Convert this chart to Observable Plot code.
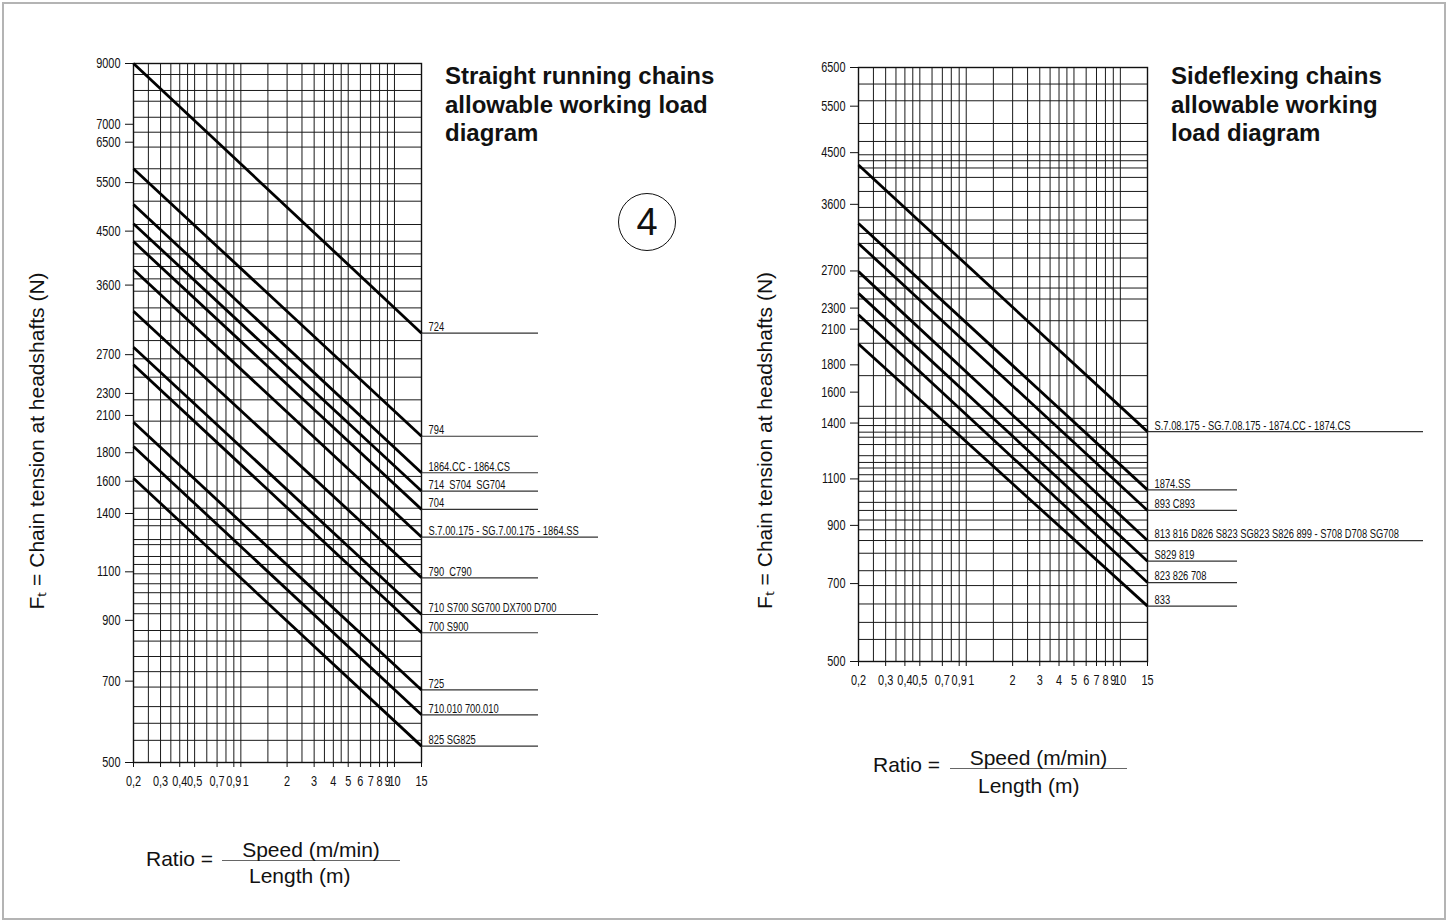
<!DOCTYPE html>
<html>
<head>
<meta charset="utf-8">
<script src="https://cdn.jsdelivr.net/npm/d3@7"></script>
<script src="https://cdn.jsdelivr.net/npm/@observablehq/plot@0.6"></script>
<style>
  html, body { margin: 0; padding: 0; background: #fff; }
  #page { position: relative; width: 1448px; height: 922px; overflow: hidden;
          font-family: "Liberation Sans", Arial, Helvetica, sans-serif; color: #111; }
  .border { position: absolute; left: 2px; top: 2px; width: 1444px; height: 918px;
            box-sizing: border-box; border: 2px solid #b4b4b4; }
  .chart { position: absolute; top: 0; }
  .chart svg { display: block; max-width: none; }
  .title { position: absolute; font-weight: bold; font-size: 24px; line-height: 28.5px; white-space: nowrap; }
  .circle { position: absolute; left: 618px; top: 193px; width: 58px; height: 58px; box-sizing: border-box;
            border: 1.6px solid #111; border-radius: 50%; display: flex; align-items: center; justify-content: center;
            font-size: 38px; line-height: 1; font-weight: 300; }
  .ftxt { position: absolute; font-size: 21px; line-height: 21px; white-space: nowrap; }
  .num { text-align: center; border-bottom: 1.3px solid #666; }
</style>
</head>
<body>
<div id="page">
  <div class="border"></div>
  <div class="chart" id="left" style="left:0px;width:620px;"></div>
  <div class="chart" id="right" style="left:724px;width:716px;"></div>

  <div class="title" style="left:445px;top:62px;">Straight running chains<br>allowable working load<br>diagram</div>
  <div class="title" style="left:1171px;top:62px;">Sideflexing chains<br>allowable working<br>load diagram</div>
  <div class="circle">4</div>

  <div class="ftxt" style="left:146px;top:848px;">Ratio =</div>
  <div class="ftxt num" style="left:222px;top:839px;width:178px;">Speed (m/min)</div>
  <div class="ftxt" style="left:249px;top:865px;">Length (m)</div>

  <div class="ftxt" style="left:873px;top:754px;">Ratio =</div>
  <div class="ftxt num" style="left:950px;top:747px;width:177px;">Speed (m/min)</div>
  <div class="ftxt" style="left:978px;top:775px;">Length (m)</div>
</div>
<script>
// ---------- data ----------
const ratioGrid = [0.2, 0.25, 0.3, 0.35, 0.4, 0.45, 0.5, 0.6, 0.7, 0.8, 0.9, 1, 1.5, 2, 2.5, 3, 3.5, 4, 4.5, 5, 6, 7, 8, 9, 10, 15];
const ratioTicks = [0.2, 0.3, 0.4, 0.5, 0.7, 0.9, 1, 2, 3, 4, 5, 6, 7, 8, 9, 10, 15];
const ratioEnds = [0.2, 15];

const yLabel = "Fₜ = Chain tension at headshafts (N)";

// Straight running chains
const straightTicks = [500, 700, 900, 1100, 1400, 1600, 1800, 2100, 2300, 2700, 3600, 4500, 5500, 6500, 7000, 9000];
const straightDomain = [500, 9000];
const straightGrid = [8600, 8050, 7700, 7206, 6774, 6370, 5824, 5474, 5093, 4625, 4316, 4096, 3888, 3694, 3510,
  3276, 3100, 2862, 2654, 2460, 2240, 2051, 1868, 1632, 1536, 1431, 1366, 1331, 1257, 1231, 1172, 1134, 1091,
  1047, 1009, 964, 925, 863, 826, 775, 728, 683, 630, 588, 548];
const straightLabels = ["724", "794", "1864.CC - 1864.CS", "714  S704  SG704", "704",
  "S.7.00.175 - SG.7.00.175 - 1864.SS", "790  C790", "710 S700 SG700 DX700 D700", "700 S900",
  "725", "710.010 700.010", "825 SG825"];
const straightStart = [9000, 5824, 5024, 4639, 4310, 3841, 3232, 2785, 2589, 2042, 1847, 1620];
const straightEnd = [2951, 1927, 1657, 1536, 1424, 1270, 1073, 922, 855, 675, 609, 535];

// Sideflexing chains
const sideTicks = [500, 700, 900, 1100, 1400, 1600, 1800, 2100, 2300, 2700, 3600, 4500, 5500, 6500];
const sideDomain = [500, 6500];
const sideGrid = [6052, 5630, 5104, 4723, 4459, 4346, 4212, 4044, 3806, 3552, 3364, 3175, 3041, 2855, 2634,
  2508, 2392, 2178, 1976, 1718, 1505, 1429, 1385, 1346, 1317, 1276, 1216, 1181, 1153, 1120, 1089, 1043,
  994, 960, 921, 883, 843, 798, 740, 694, 641, 592, 550];
const sideLabels = ["S.7.08.175 - SG.7.08.175 - 1874.CC - 1874.CS", "1874.SS", "893 C893",
  "813 816 D826 S823 SG823 S826 899 - S708 D708 SG708", "S829 819", "823 826 708", "833"];
const sideStart = [4266, 3315, 3041, 2692, 2451, 2235, 1970];
const sideEnd = [1349, 1049, 960, 843, 771, 703, 635];

// ---------- drawing ----------
const FONT = '"Liberation Sans", Arial, Helvetica, sans-serif';
const NARROW_SCALE = 0.78; // Arial-Narrow look: Arial metrics compressed horizontally
const fmtRatio = (d) => String(d).replace(".", ",");

function drawChart(cfg) {
  const rows = cfg.labels.map((label, i) => ({label, start: cfg.start[i], end: cfg.end[i]}));
  const plotWidth = cfg.width - cfg.marginLeft - cfg.marginRight;
  const pxPerDecade = plotWidth / Math.log10(ratioEnds[1] / ratioEnds[0]);
  const extend = (px) => ratioEnds[1] * Math.pow(10, px / pxPerDecade);
  const svg = Plot.plot({
    width: cfg.width,
    height: cfg.height,
    marginLeft: cfg.marginLeft,
    marginRight: cfg.marginRight,
    marginTop: cfg.marginTop,
    marginBottom: cfg.marginBottom,
    x: {type: "log", domain: ratioEnds},
    y: {type: "log", domain: cfg.yDomain},
    style: {background: "none", color: "#111", fontFamily: FONT, fontSize: "14px", overflow: "visible"},
    marks: [
      Plot.ruleX(ratioGrid, {stroke: "#1a1a1a", strokeWidth: 1}),
      Plot.ruleY(cfg.yGrid, {stroke: "#1a1a1a", strokeWidth: 1}),
      Plot.frame({stroke: "#111", strokeWidth: 1.4}),
      Plot.axisX({ticks: ratioTicks, tickSize: 5, tickFormat: () => "", label: null}),
      Plot.axisY({ticks: cfg.yTicks, tickSize: 8, tickFormat: () => "", label: null}),
      Plot.text(ratioTicks.filter((d) => d !== 1), {x: (d) => d, frameAnchor: "bottom", lineAnchor: "top", dy: 14,
        text: fmtRatio, fontSize: 14}),
      Plot.text(ratioTicks.filter((d) => d === 1), {x: (d) => d, frameAnchor: "bottom", lineAnchor: "top", dy: 14, dx: 5,
        text: fmtRatio, fontSize: 14}),
      Plot.text(cfg.yTicks, {y: (d) => d, frameAnchor: "left", textAnchor: "end", dx: -13,
        text: (d) => String(d), fontSize: 14}),
      Plot.ruleY(rows, {
        y: "end",
        x1: () => ratioEnds[1],
        x2: (d) => extend(d.label.length > 20 ? cfg.longRule : cfg.shortRule),
        stroke: "#333", strokeWidth: 1.2
      }),
      Plot.link(rows, {x1: () => ratioEnds[0], y1: "start", x2: () => ratioEnds[1], y2: "end", stroke: "#000", strokeWidth: 2.8}),
      Plot.text(rows, {x: () => ratioEnds[1], y: "end", text: "label", textAnchor: "start", dx: 7, dy: -6, fontSize: 12}),
      Plot.text([yLabel], {frameAnchor: "left", textAnchor: "middle", text: (d) => d, rotate: -90,
        dx: cfg.labelDx, dy: cfg.labelDy, fontSize: 21})
    ]
  });
  // narrow (Arial Narrow-like) look for tick labels and series labels
  svg.querySelectorAll("text").forEach((t) => {
    if (t.textContent === yLabel) return;
    const tr = t.getAttribute("transform");
    if (tr && tr.includes("translate")) {
      t.setAttribute("transform", tr + ` scale(${NARROW_SCALE},1)`);
    } else {
      const x = +t.getAttribute("x") || 0, y = +t.getAttribute("y") || 0;
      t.setAttribute("x", 0); t.setAttribute("y", 0);
      t.setAttribute("transform", `translate(${x},${y}) scale(${NARROW_SCALE},1)`);
    }
  });
  return svg;
}

document.getElementById("left").append(drawChart({
  labels: straightLabels, start: straightStart, end: straightEnd,
  yTicks: straightTicks, yGrid: straightGrid, yDomain: straightDomain,
  width: 620, height: 800, marginLeft: 133, marginRight: 199, marginTop: 63, marginBottom: 38,
  shortRule: 117, longRule: 177, labelDx: -96, labelDy: 28
}));

document.getElementById("right").append(drawChart({
  labels: sideLabels, start: sideStart, end: sideEnd,
  yTicks: sideTicks, yGrid: sideGrid, yDomain: sideDomain,
  width: 716, height: 700, marginLeft: 134, marginRight: 293, marginTop: 67, marginBottom: 39,
  shortRule: 90, longRule: 276, labelDx: -93, labelDy: 76
}));
</script>
</body>
</html>
